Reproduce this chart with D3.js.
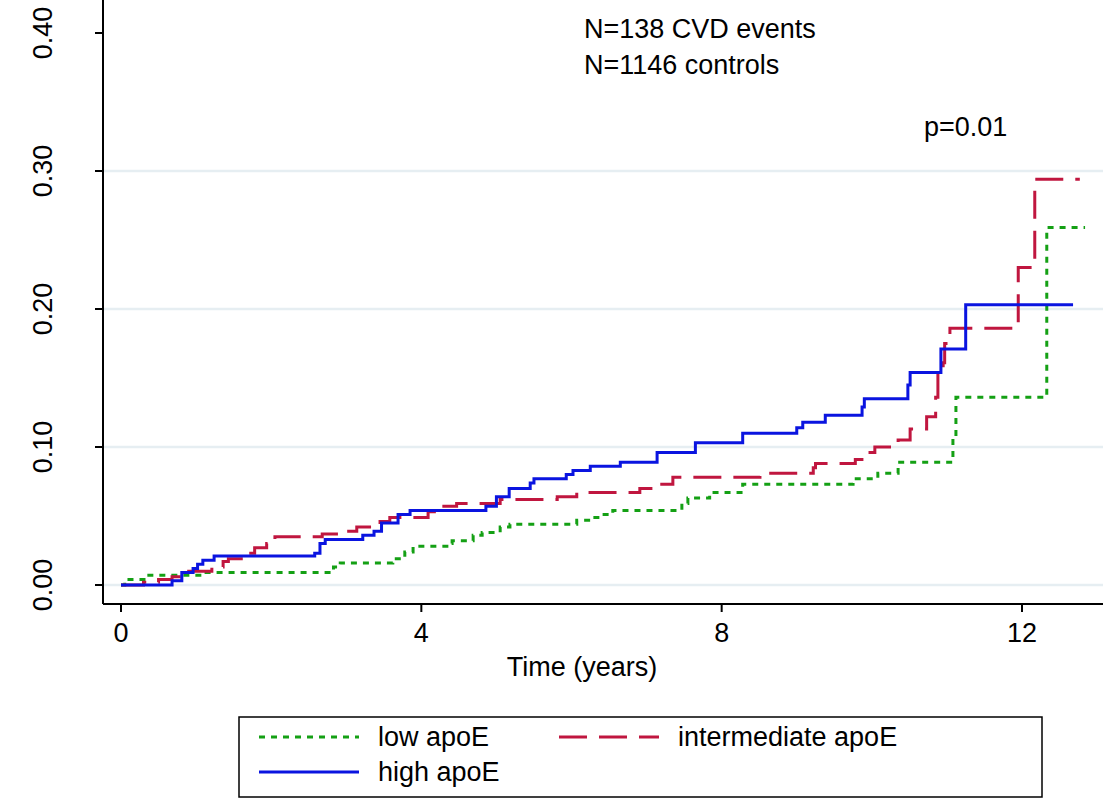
<!DOCTYPE html><html><head><meta charset="utf-8"><script src="https://d3js.org/d3.v7.min.js"></script>
<style>body{margin:0;background:#fff}text{font-family:"Liberation Sans",Arial,sans-serif}</style></head><body><svg id="c" width="1106" height="800"></svg>
<script>
const xTicks=[0,4,8,12];
const yTicks=[0,0.1,0.2,0.3,0.4];
const yTickLabels=["0.00","0.10","0.20","0.30","0.40"];
const highT=[0,0.68,0.81,0.96,1.02,1.09,1.24,2.58,2.65,2.72,3.22,3.37,3.47,3.69,3.85,4.86,5.0,5.17,5.45,5.5,5.93,6.02,6.25,6.65,7.14,7.65,8.28,9.0,9.08,9.38,9.87,9.9,10.48,10.51,10.92,11.25,12.68];
const highV=[0,0.003,0.009,0.012,0.015,0.018,0.021,0.023,0.030,0.033,0.036,0.039,0.045,0.051,0.054,0.057,0.064,0.070,0.074,0.077,0.080,0.083,0.086,0.089,0.096,0.103,0.110,0.114,0.118,0.123,0.129,0.135,0.145,0.154,0.171,0.203,0.203];
const intT=[0,0.3,0.5,0.68,0.88,1.21,1.36,1.43,1.68,1.78,1.94,2.05,2.68,2.92,3.14,3.45,3.58,4.09,4.27,4.47,5.05,5.81,6.07,6.91,7.09,7.35,8.51,9.22,9.25,9.78,9.94,10.04,10.35,10.51,10.73,10.85,10.88,10.95,10.97,11.01,11.04,11.95,12.17,12.77];
const intV=[0,0.002,0.004,0.006,0.010,0.013,0.017,0.019,0.023,0.027,0.030,0.035,0.037,0.039,0.042,0.046,0.049,0.053,0.057,0.059,0.062,0.064,0.067,0.070,0.073,0.078,0.081,0.085,0.088,0.091,0.096,0.100,0.105,0.113,0.122,0.136,0.154,0.161,0.175,0.176,0.186,0.230,0.294,0.294];
const lowT=[0,0.05,0.35,1.05,2.83,2.92,3.62,3.78,3.89,4.34,4.41,4.69,4.81,5.05,5.18,6.07,6.25,6.38,6.55,7.47,7.55,7.84,8.28,9.75,10.08,10.35,11.08,11.12,12.33,12.84];
const lowV=[0,0.004,0.007,0.009,0.013,0.016,0.019,0.024,0.028,0.030,0.032,0.036,0.038,0.042,0.044,0.047,0.049,0.051,0.054,0.059,0.063,0.067,0.073,0.077,0.081,0.089,0.107,0.136,0.259,0.259];
const svg=d3.select("#c");
const x=d3.scaleLinear().domain([0,12]).range([121,1022]);
const y=d3.scaleLinear().domain([0,0.4]).range([585,33]);
const F=27;
svg.selectAll(".g").data(yTicks.slice(0,4)).enter().append("line").attr("x1",103).attr("x2",1103).attr("y1",d=>y(d)).attr("y2",d=>y(d)).attr("stroke","#e6eef2").attr("stroke-width",2.5);
svg.append("line").attr("x1",103).attr("x2",103).attr("y1",0).attr("y2",604).attr("stroke","#000").attr("stroke-width",2);
svg.append("line").attr("x1",103).attr("x2",1103).attr("y1",604).attr("y2",604).attr("stroke","#000").attr("stroke-width",2);
yTicks.forEach((t,i)=>{svg.append("line").attr("x1",95).attr("x2",103).attr("y1",y(t)).attr("y2",y(t)).attr("stroke","#000").attr("stroke-width",2);
 svg.append("text").attr("transform",`translate(52,${y(t)}) rotate(-90)`).attr("text-anchor","middle").attr("font-size",F).text(yTickLabels[i]);});
xTicks.forEach(t=>{svg.append("line").attr("x1",x(t)).attr("x2",x(t)).attr("y1",604).attr("y2",612).attr("stroke","#000").attr("stroke-width",2);
 svg.append("text").attr("x",x(t)).attr("y",642).attr("text-anchor","middle").attr("font-size",F).text(t);});
svg.append("text").attr("x",582).attr("y",676).attr("text-anchor","middle").attr("font-size",F).text("Time (years)");
const line=d3.line().x(d=>x(d[0])).y(d=>y(d[1])).curve(d3.curveStepAfter);
const series=[[lowT,lowV,"#14a014","6,6"],[intT,intV,"#c0163f","28,12"],[highT,highV,"#0a14e0",null]];
series.forEach(s=>{const p=svg.append("path").datum(s[0].map((t,i)=>[t,s[1][i]])).attr("d",line).attr("fill","none").attr("stroke",s[2]).attr("stroke-width",3);if(s[3])p.attr("stroke-dasharray",s[3]);});
svg.append("text").attr("x",584).attr("y",38).attr("font-size",F).text("N=138 CVD events");
svg.append("text").attr("x",584).attr("y",74).attr("font-size",F).text("N=1146 controls");
svg.append("text").attr("x",924).attr("y",136).attr("font-size",F).text("p=0.01");
svg.append("rect").attr("x",239).attr("y",717).attr("width",803).attr("height",80).attr("fill","none").attr("stroke","#000").attr("stroke-width",1.5);
const leg=[[259,363,746,"low apoE",0],[559,663,746,"intermediate apoE",1],[259,363,781,"high apoE",2]];
leg.forEach(l=>{const s=series[l[4]];const ln=svg.append("line").attr("x1",l[0]).attr("x2",l[0]+100).attr("y1",l[2]-9).attr("y2",l[2]-9).attr("stroke",s[2]).attr("stroke-width",3);if(s[3])ln.attr("stroke-dasharray",s[3]);
 svg.append("text").attr("x",l[1]+15).attr("y",l[2]).attr("font-size",F).text(l[3]);});
</script></body></html>
